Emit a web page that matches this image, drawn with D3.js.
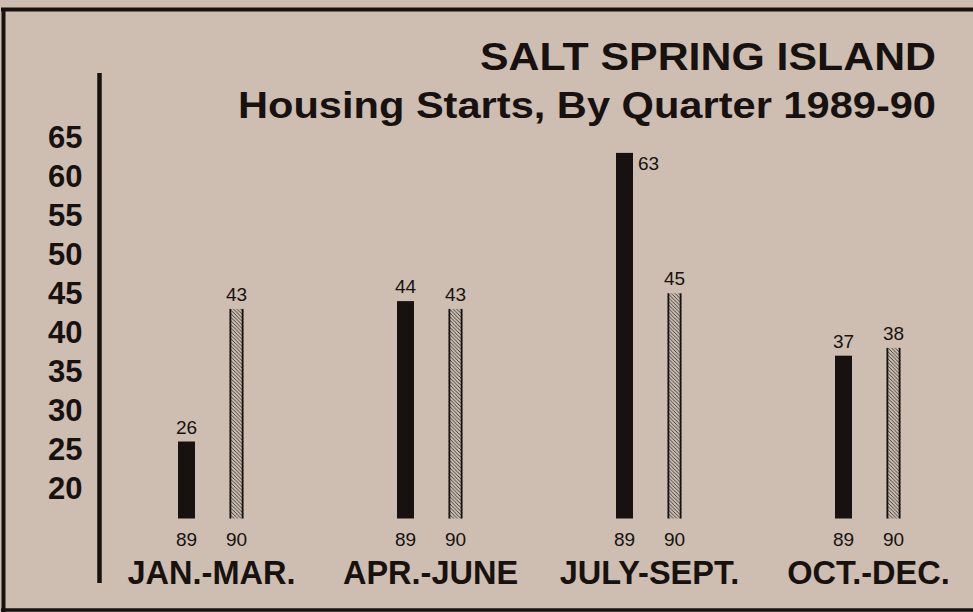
<!DOCTYPE html>
<html>
<head>
<meta charset="utf-8">
<script src="https://cdn.jsdelivr.net/npm/d3@7"></script>
<style>
  html, body { margin: 0; padding: 0; background: #cdbeb1; }
  svg { display: block; }
  text { font-family: "Liberation Sans", Arial, Helvetica, sans-serif; }
</style>
</head>
<body>
<script>
// ---- data ----
const categories = ["JAN.-MAR.", "APR.-JUNE", "JULY-SEPT.", "OCT.-DEC."];
const series = ["89", "90"];
const values89 = [26, 44, 63, 37];
const values90 = [43, 43, 45, 38];
const yTicks = [20, 25, 30, 35, 40, 45, 50, 55, 60, 65];
const titleLine1 = "SALT SPRING ISLAND";
const titleLine2 = "Housing Starts, By Quarter 1989-90";

// ---- setup ----
const W = 973, H = 612;
const ink = "#17120f";
const svg = d3.select("body").append("svg").attr("width", W).attr("height", H);

svg.append("rect").attr("width", W).attr("height", H).attr("fill", "#cdbeb1");

const defs = svg.append("defs");
const pat = defs.append("pattern")
  .attr("id", "hatch").attr("patternUnits", "userSpaceOnUse")
  .attr("width", 3.6).attr("height", 3.6);
pat.append("rect").attr("width", 3.6).attr("height", 3.6).attr("fill", "#c9bcb0");
pat.append("path")
  .attr("d", "M0,0 L3.6,3.6 M-1,2.6 L1,4.6 M2.6,-1 L4.6,1")
  .attr("stroke", "#3a332e").attr("stroke-width", 0.9);

// frame
svg.append("line").attr("x1", 1).attr("x2", W).attr("y1", 9.5).attr("y2", 9.5)
  .attr("stroke", ink).attr("stroke-width", 4);
svg.append("line").attr("x1", 3.5).attr("x2", 3.5).attr("y1", 8).attr("y2", 612)
  .attr("stroke", ink).attr("stroke-width", 4);
svg.append("line").attr("x1", 1).attr("x2", W).attr("y1", 610).attr("y2", 610)
  .attr("stroke", ink).attr("stroke-width", 3.5);

// scales
const x0 = d3.scaleBand().domain(categories).range([102, 978]);
const x1 = d3.scaleBand().domain(series).range([-50, 50]);
const y = d3.scaleLinear().domain([16, 66]).range([519.5, 129.5]);

// titles
svg.append("text").attr("x", 480).attr("y", 70)
  .attr("font-size", 39).attr("font-weight", "bold").attr("fill", ink)
  .attr("textLength", 456).attr("lengthAdjust", "spacingAndGlyphs")
  .text(titleLine1);
svg.append("text").attr("x", 238).attr("y", 118)
  .attr("font-size", 36).attr("font-weight", "bold").attr("fill", ink)
  .attr("textLength", 698).attr("lengthAdjust", "spacingAndGlyphs")
  .text(titleLine2);

// y axis
const axisX = 99.5;
const gAxis = svg.append("g").attr("transform", `translate(${axisX},0)`)
  .call(d3.axisLeft(y).tickValues(yTicks).tickSize(0).tickPadding(17));
gAxis.select(".domain").remove();
gAxis.selectAll("text")
  .attr("font-family", '"Liberation Sans", Arial, sans-serif')
  .attr("font-size", 31).attr("font-weight", "bold").attr("fill", ink);
svg.append("line").attr("x1", axisX).attr("x2", axisX).attr("y1", 73).attr("y2", 583)
  .attr("stroke", ink).attr("stroke-width", 4.5);

// bars
const rows = [];
categories.forEach((c, i) => {
  rows.push({ cat: c, s: "89", v: values89[i] });
  rows.push({ cat: c, s: "90", v: values90[i] });
});
const maxV = d3.max(rows, d => d.v);
const cx = d => x0(d.cat) + x0.bandwidth() / 2 + x1(d.s) + x1.bandwidth() / 2;
const bw = d => d.s === "89" ? 17 : 14;
const base = y(16) - 1;

const gBars = svg.append("g");
rows.forEach(d => {
  const left = cx(d) - bw(d) / 2;
  const top = y(d.v);
  if (d.s === "89") {
    gBars.append("rect").attr("x", left).attr("y", top)
      .attr("width", bw(d)).attr("height", base - top).attr("fill", ink);
  } else {
    gBars.append("rect").attr("x", left).attr("y", top)
      .attr("width", bw(d)).attr("height", base - top).attr("fill", "url(#hatch)");
    [left + 0.9, left + bw(d) - 0.9].forEach(xx => {
      gBars.append("line").attr("x1", xx).attr("x2", xx).attr("y1", top).attr("y2", base)
        .attr("stroke", ink).attr("stroke-width", 1.8);
    });
  }
  // value label
  const lab = gBars.append("text").attr("font-size", 19).attr("fill", ink).text(d.v);
  if (d.v === maxV) {
    lab.attr("x", left + bw(d) + 5).attr("y", top + 17).attr("text-anchor", "start");
  } else {
    lab.attr("x", cx(d)).attr("y", top - 8).attr("text-anchor", "middle");
  }
  // series label
  gBars.append("text").attr("x", cx(d)).attr("y", 546).attr("text-anchor", "middle")
    .attr("font-size", 19).attr("fill", ink).text(d.s);
});

// category labels
svg.append("g").selectAll("text").data(categories).join("text")
  .attr("x", d => x0(d) + x0.bandwidth() / 2)
  .attr("y", 584).attr("text-anchor", "middle")
  .attr("font-size", 32.5).attr("font-weight", "bold").attr("fill", ink)
  .text(d => d);
</script>
</body>
</html>
